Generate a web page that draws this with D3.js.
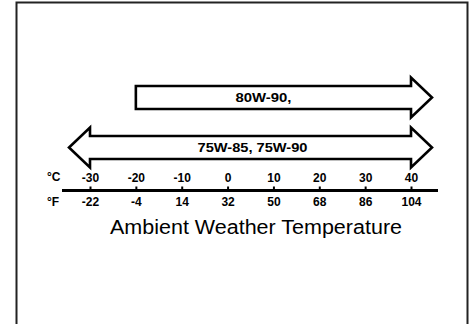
<!DOCTYPE html>
<html><head><meta charset="utf-8">
<script src="https://cdn.jsdelivr.net/npm/d3@7"></script>
<style>body{margin:0;background:#fff}svg{display:block}</style>
</head><body>
<svg id="c" width="471" height="324"></svg>
<script>
// ---- data ----
const celsius = [-30, -20, -10, 0, 10, 20, 30, 40];
const fahrenheit = ["-22", "-4", "14", "32", "50", "68", "86", "104"];
const grades = ["80W-90,", "75W-85, 75W-90"];
const rangeStart = [-20, -30];
const rangeEnd = [40, 40];
const doubleHeaded = [false, true];
const axisTitle = "Ambient Weather Temperature";

// ---- drawing ----
const svg = d3.select("#c");
const font = "'Liberation Sans', Arial, Helvetica, sans-serif";

// frame
svg.append("path").attr("d", "M16.5,326 V2.5 H467.5 V326")
  .attr("fill", "none").attr("stroke", "#222").attr("stroke-width", 2);

const x = d3.scaleLinear().domain([-30, 40]).range([90, 411]);
const y = d3.scalePoint().domain(grades).range([97.5, 147.5]);

const h = 11.5, H = 20, L = 21;
function arrowPath(i) {
  const x0 = x(rangeStart[i]), x1 = x(rangeEnd[i]), cy = y(grades[i]);
  let p = `M${x0},${cy - h} L${x1},${cy - h} L${x1},${cy - H} L${x1 + L},${cy} L${x1},${cy + H} L${x1},${cy + h} L${x0},${cy + h}`;
  if (doubleHeaded[i]) p += ` L${x0},${cy + H} L${x0 - L},${cy} L${x0},${cy - H}`;
  return p + " Z";
}
const g = svg.append("g");
g.selectAll("path").data(grades).join("path")
  .attr("d", (d, i) => arrowPath(i))
  .attr("fill", "#fff").attr("stroke", "#000").attr("stroke-width", 2.6)
  .attr("stroke-linejoin", "miter");

const labelLen = [56, 110];
const labelOff = [-10, 2];
g.selectAll("text").data(grades).join("text")
  .attr("x", (d, i) => (x(rangeStart[i]) + x(rangeEnd[i])) / 2 + labelOff[i])
  .attr("y", (d) => y(d) + 4.5)
  .attr("text-anchor", "middle")
  .attr("font-family", font).attr("font-weight", "bold").attr("font-size", 13)
  .attr("textLength", (d, i) => labelLen[i]).attr("lengthAdjust", "spacingAndGlyphs")
  .text(d => d);

// axis
const axisY = 190.5;
svg.append("line").attr("x1", x(-30) - 28).attr("x2", x(40) + 27)
  .attr("y1", axisY).attr("y2", axisY).attr("stroke", "#000").attr("stroke-width", 3);

const axC = svg.append("g").attr("transform", `translate(0,${axisY})`)
  .call(d3.axisTop(x).tickValues(celsius).tickSize(4).tickPadding(5).tickFormat(d3.format("d")));
const axF = svg.append("g").attr("transform", `translate(0,${axisY})`)
  .call(d3.axisBottom(x).tickValues(celsius).tickSize(0).tickPadding(7).tickFormat((d, i) => fahrenheit[i]));
[axC, axF].forEach(a => {
  a.select(".domain").remove();
  a.selectAll("line").attr("stroke", "#000").attr("stroke-width", 2);
  a.selectAll("text").attr("fill", "#000").attr("font-family", font)
    .attr("font-weight", "bold").attr("font-size", 12);
});
axC.selectAll("text").text(d => d < 0 ? "-" + Math.abs(d) : d);

// unit labels
svg.append("text").attr("x", 47).attr("y", 181)
  .attr("font-family", font).attr("font-weight", "bold").attr("font-size", 12).text("°C");
svg.append("text").attr("x", 47).attr("y", 205.5)
  .attr("font-family", font).attr("font-weight", "bold").attr("font-size", 12).text("°F");

// title
svg.append("text").attr("x", 256).attr("y", 234)
  .attr("text-anchor", "middle").attr("font-family", font).attr("font-size", 20)
  .attr("textLength", 292).attr("lengthAdjust", "spacingAndGlyphs")
  .text(axisTitle);
</script>
</body></html>
